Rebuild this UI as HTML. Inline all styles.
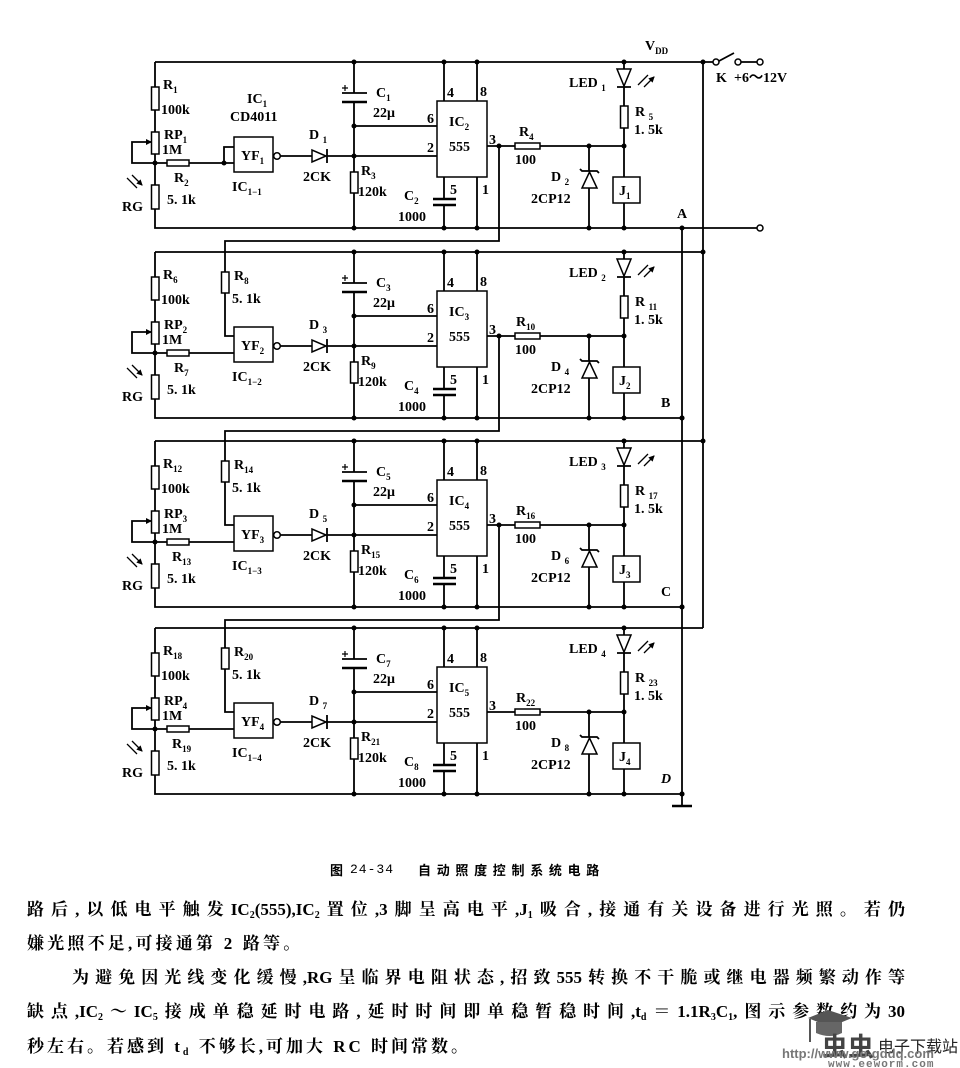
<!DOCTYPE html>
<html><head><meta charset="utf-8"><style>
html,body{margin:0;padding:0;background:#fff;}
body{width:960px;height:1068px;position:relative;overflow:hidden;}
svg text{font-family:"Liberation Serif",serif;font-size:14px;font-weight:bold;fill:#000;}
svg tspan.s{font-size:9px;}
.ln{position:absolute;font-family:"Liberation Serif","Noto Serif CJK SC",serif;font-size:17px;font-weight:bold;line-height:20px;white-space:nowrap;color:#000;}
.j{text-align:justify;text-align-last:justify;}
.ln sub{font-size:10px;vertical-align:-3px;line-height:0;}
</style></head><body>
<svg width="960" height="860" viewBox="0 0 960 860" style="position:absolute;left:0;top:0">
<defs>
<marker id="ah" markerWidth="6" markerHeight="6" refX="5" refY="3" orient="auto" markerUnits="userSpaceOnUse"><path d="M0,0 L6,3 L0,6 z" fill="#000"/></marker>
<g id="stg">
 <g stroke="#000" stroke-width="1.8" fill="none">
  <path d="M155,62 H703"/>
  <path d="M155,62 V87 M155,110 V132 M155,154 V185 M155,209 V228 H682"/>
  <path d="M155,163 H132 V142 H151" marker-end="url(#ah)"/>
  <path d="M155,163 H167 M189,163 H234"/>
  <path d="M280.5,156 H312 M327,149 V163 M327,156 H437"/>
  <path d="M354,62 V93 M342,93 H367 M354,102 V172 M354,193 V228 M354,126 H437"/>
  <path d="M342,102 H367" stroke-width="2.6"/>
  <path d="M444,62 V101 M477,62 V101 M444,177 V199 M444,205 V228 M477,177 V228"/>
  <path d="M433,199 H456 M433,205 H456" stroke-width="2.4"/>
  <path d="M487,146 H515 M540,146 H624"/>
  <path d="M589,146 V171 M580,169 L582,171 H597 L599,173 M589,188 V228"/>
  <path d="M624,62 V69 M617,87 H631 M624,87 V106 M624,128 V177 M624,203 V228"/>
  <path d="M342,88 H348 M345,85 V91" stroke-width="1.2"/>
 </g>
 <g stroke="#000" stroke-width="1.5" fill="#fff">
  <rect x="151.5" y="87" width="7.5" height="23"/>
  <rect x="151.5" y="132" width="7.5" height="22"/>
  <rect x="151.5" y="185" width="7.5" height="24"/>
  <rect x="167" y="160" width="22" height="6"/>
  <rect x="234" y="137" width="39" height="35"/>
  <circle cx="277" cy="156" r="3.3"/>
  <polygon points="312,150 312,162 326,156"/>
  <rect x="350.5" y="172" width="7.5" height="21"/>
  <rect x="437" y="101" width="50" height="76"/>
  <rect x="515" y="143" width="25" height="6"/>
  <polygon points="582,188 597,188 589.5,172"/>
  <polygon points="617,69 631,69 624,86"/>
  <rect x="620.5" y="106" width="7.5" height="22"/>
  <rect x="613" y="177" width="27" height="26"/>
 </g>
 <g stroke="#000" stroke-width="1.3">
  <path d="M638,85 L648,75 M644,87 L654,77" marker-end="url(#ah)"/>
  <path d="M127,178 L137,188 M132,175 L142,185" marker-end="url(#ah)"/>
 </g>
 <g fill="#000">
  <circle cx="354" cy="62" r="2.5"/><circle cx="444" cy="62" r="2.5"/><circle cx="477" cy="62" r="2.5"/><circle cx="624" cy="62" r="2.5"/>
  <circle cx="155" cy="163" r="2.5"/><circle cx="354" cy="126" r="2.5"/><circle cx="354" cy="156" r="2.5"/>
  <circle cx="589" cy="146" r="2.5"/><circle cx="624" cy="146" r="2.5"/>
  <circle cx="354" cy="228" r="2.5"/><circle cx="444" cy="228" r="2.5"/><circle cx="477" cy="228" r="2.5"/><circle cx="589" cy="228" r="2.5"/><circle cx="624" cy="228" r="2.5"/><circle cx="682" cy="228" r="2.5"/>
 </g>
</g>
</defs>

<use href="#stg"/>
<use href="#stg" transform="translate(0,190)"/>
<use href="#stg" transform="translate(0,379)"/>
<use href="#stg" transform="translate(0,566)"/>

<g stroke="#000" stroke-width="1.8" fill="none">
 <path d="M224,163 V147 H234"/>
 <path d="M703,62 H713 M719,61 L734,53 M741,62 H757"/>
 <path d="M682,228 H757"/>
 <path d="M703,62 V628"/>
 <path d="M682,228 V806"/>
 <path d="M672,806 H692" stroke-width="2.6"/>
 <path d="M499,146 V241 H225 V272 M225,293 V336 H234"/>
 <path d="M499,336 V431 H225 V461 M225,482 V525 H234"/>
 <path d="M499,525 V620 H225 V648 M225,669 V712 H234"/>
</g>
<g stroke="#000" stroke-width="1.5" fill="#fff">
 <circle cx="716" cy="62" r="3"/><circle cx="738" cy="62" r="3"/><circle cx="760" cy="62" r="3"/><circle cx="760" cy="228" r="3"/>
 <rect x="221.5" y="272" width="7.5" height="21"/>
 <rect x="221.5" y="461" width="7.5" height="21"/>
 <rect x="221.5" y="648" width="7.5" height="21"/>
</g>
<g fill="#000">
 <circle cx="224" cy="163" r="2.5"/>
 <circle cx="703" cy="62" r="2.5"/><circle cx="703" cy="252" r="2.5"/><circle cx="703" cy="441" r="2.5"/>
 <circle cx="682" cy="418" r="2.5"/><circle cx="682" cy="607" r="2.5"/><circle cx="682" cy="794" r="2.5"/>
 <circle cx="499" cy="146" r="2.5"/><circle cx="499" cy="336" r="2.5"/><circle cx="499" cy="525" r="2.5"/>
</g>

<text x="645" y="50">V<tspan class="s" dy="4">DD</tspan></text>
<text x="716" y="82">K</text>
<text x="734" y="82">+6～12V</text>
<text x="677" y="218">A</text>
<text x="661" y="407">B</text>
<text x="661" y="596">C</text>
<text x="661" y="783" font-style="italic">D</text>

<g>
<text x="163" y="89">R<tspan class="s" dy="4">1</tspan></text>
<text x="161" y="114">100k</text>
<text x="164" y="139">RP<tspan class="s" dy="4">1</tspan></text>
<text x="162" y="154">1M</text>
<text x="174" y="182">R<tspan class="s" dy="4">2</tspan></text>
<text x="167" y="204">5. 1k</text>
<text x="122" y="211">RG</text>
<text x="247" y="103">IC<tspan class="s" dy="4">1</tspan></text>
<text x="230" y="121">CD4011</text>
<text x="241" y="160">YF<tspan class="s" dy="4">1</tspan></text>
<text x="232" y="191">IC<tspan class="s" dy="4">1−1</tspan></text>
<text x="309" y="139">D <tspan class="s" dy="4">1</tspan></text>
<text x="303" y="181">2CK</text>
<text x="361" y="175">R<tspan class="s" dy="4">3</tspan></text>
<text x="358" y="196">120k</text>
<text x="376" y="97">C<tspan class="s" dy="4">1</tspan></text>
<text x="373" y="117">22μ</text>
<text x="404" y="200">C<tspan class="s" dy="4">2</tspan></text>
<text x="398" y="221">1000</text>
<text x="427" y="123">6</text><text x="427" y="152">2</text><text x="447" y="97">4</text><text x="480" y="96">8</text>
<text x="489" y="144">3</text><text x="450" y="194">5</text><text x="482" y="194">1</text>
<text x="449" y="126">IC<tspan class="s" dy="4">2</tspan></text>
<text x="449" y="151">555</text>
<text x="519" y="136">R<tspan class="s" dy="4">4</tspan></text>
<text x="515" y="164">100</text>
<text x="551" y="181">D <tspan class="s" dy="4">2</tspan></text>
<text x="531" y="203">2CP12</text>
<text x="619" y="195">J<tspan class="s" dy="4">1</tspan></text>
<text x="569" y="87">LED <tspan class="s" dy="4">1</tspan></text>
<text x="635" y="116">R <tspan class="s" dy="4">5</tspan></text>
<text x="634" y="134">1. 5k</text>
</g>

<g transform="translate(0,190)">
<text x="163" y="89">R<tspan class="s" dy="4">6</tspan></text>
<text x="161" y="114">100k</text>
<text x="164" y="139">RP<tspan class="s" dy="4">2</tspan></text>
<text x="162" y="154">1M</text>
<text x="174" y="182">R<tspan class="s" dy="4">7</tspan></text>
<text x="167" y="204">5. 1k</text>
<text x="122" y="211">RG</text>
<text x="234" y="90">R<tspan class="s" dy="4">8</tspan></text>
<text x="232" y="113">5. 1k</text>
<text x="241" y="160">YF<tspan class="s" dy="4">2</tspan></text>
<text x="232" y="191">IC<tspan class="s" dy="4">1−2</tspan></text>
<text x="309" y="139">D <tspan class="s" dy="4">3</tspan></text>
<text x="303" y="181">2CK</text>
<text x="361" y="175">R<tspan class="s" dy="4">9</tspan></text>
<text x="358" y="196">120k</text>
<text x="376" y="97">C<tspan class="s" dy="4">3</tspan></text>
<text x="373" y="117">22μ</text>
<text x="404" y="200">C<tspan class="s" dy="4">4</tspan></text>
<text x="398" y="221">1000</text>
<text x="427" y="123">6</text><text x="427" y="152">2</text><text x="447" y="97">4</text><text x="480" y="96">8</text>
<text x="489" y="144">3</text><text x="450" y="194">5</text><text x="482" y="194">1</text>
<text x="449" y="126">IC<tspan class="s" dy="4">3</tspan></text>
<text x="449" y="151">555</text>
<text x="516" y="136">R<tspan class="s" dy="4">10</tspan></text>
<text x="515" y="164">100</text>
<text x="551" y="181">D <tspan class="s" dy="4">4</tspan></text>
<text x="531" y="203">2CP12</text>
<text x="619" y="195">J<tspan class="s" dy="4">2</tspan></text>
<text x="569" y="87">LED <tspan class="s" dy="4">2</tspan></text>
<text x="635" y="116">R <tspan class="s" dy="4">11</tspan></text>
<text x="634" y="134">1. 5k</text>
</g>

<g transform="translate(0,379)">
<text x="163" y="89">R<tspan class="s" dy="4">12</tspan></text>
<text x="161" y="114">100k</text>
<text x="164" y="139">RP<tspan class="s" dy="4">3</tspan></text>
<text x="162" y="154">1M</text>
<text x="172" y="182">R<tspan class="s" dy="4">13</tspan></text>
<text x="167" y="204">5. 1k</text>
<text x="122" y="211">RG</text>
<text x="234" y="90">R<tspan class="s" dy="4">14</tspan></text>
<text x="232" y="113">5. 1k</text>
<text x="241" y="160">YF<tspan class="s" dy="4">3</tspan></text>
<text x="232" y="191">IC<tspan class="s" dy="4">1−3</tspan></text>
<text x="309" y="139">D <tspan class="s" dy="4">5</tspan></text>
<text x="303" y="181">2CK</text>
<text x="361" y="175">R<tspan class="s" dy="4">15</tspan></text>
<text x="358" y="196">120k</text>
<text x="376" y="97">C<tspan class="s" dy="4">5</tspan></text>
<text x="373" y="117">22μ</text>
<text x="404" y="200">C<tspan class="s" dy="4">6</tspan></text>
<text x="398" y="221">1000</text>
<text x="427" y="123">6</text><text x="427" y="152">2</text><text x="447" y="97">4</text><text x="480" y="96">8</text>
<text x="489" y="144">3</text><text x="450" y="194">5</text><text x="482" y="194">1</text>
<text x="449" y="126">IC<tspan class="s" dy="4">4</tspan></text>
<text x="449" y="151">555</text>
<text x="516" y="136">R<tspan class="s" dy="4">16</tspan></text>
<text x="515" y="164">100</text>
<text x="551" y="181">D <tspan class="s" dy="4">6</tspan></text>
<text x="531" y="203">2CP12</text>
<text x="619" y="195">J<tspan class="s" dy="4">3</tspan></text>
<text x="569" y="87">LED <tspan class="s" dy="4">3</tspan></text>
<text x="635" y="116">R <tspan class="s" dy="4">17</tspan></text>
<text x="634" y="134">1. 5k</text>
</g>

<g transform="translate(0,566)">
<text x="163" y="89">R<tspan class="s" dy="4">18</tspan></text>
<text x="161" y="114">100k</text>
<text x="164" y="139">RP<tspan class="s" dy="4">4</tspan></text>
<text x="162" y="154">1M</text>
<text x="172" y="182">R<tspan class="s" dy="4">19</tspan></text>
<text x="167" y="204">5. 1k</text>
<text x="122" y="211">RG</text>
<text x="234" y="90">R<tspan class="s" dy="4">20</tspan></text>
<text x="232" y="113">5. 1k</text>
<text x="241" y="160">YF<tspan class="s" dy="4">4</tspan></text>
<text x="232" y="191">IC<tspan class="s" dy="4">1−4</tspan></text>
<text x="309" y="139">D <tspan class="s" dy="4">7</tspan></text>
<text x="303" y="181">2CK</text>
<text x="361" y="175">R<tspan class="s" dy="4">21</tspan></text>
<text x="358" y="196">120k</text>
<text x="376" y="97">C<tspan class="s" dy="4">7</tspan></text>
<text x="373" y="117">22μ</text>
<text x="404" y="200">C<tspan class="s" dy="4">8</tspan></text>
<text x="398" y="221">1000</text>
<text x="427" y="123">6</text><text x="427" y="152">2</text><text x="447" y="97">4</text><text x="480" y="96">8</text>
<text x="489" y="144">3</text><text x="450" y="194">5</text><text x="482" y="194">1</text>
<text x="449" y="126">IC<tspan class="s" dy="4">5</tspan></text>
<text x="449" y="151">555</text>
<text x="516" y="136">R<tspan class="s" dy="4">22</tspan></text>
<text x="515" y="164">100</text>
<text x="551" y="181">D <tspan class="s" dy="4">8</tspan></text>
<text x="531" y="203">2CP12</text>
<text x="619" y="195">J<tspan class="s" dy="4">4</tspan></text>
<text x="569" y="87">LED <tspan class="s" dy="4">4</tspan></text>
<text x="635" y="116">R <tspan class="s" dy="4">23</tspan></text>
<text x="634" y="134">1. 5k</text>
</g>
</svg>

<div class="ln" style="left:330px;top:861px;font-size:13px;line-height:18px;font-family:'Noto Sans CJK SC',sans-serif;">图</div>
<div class="ln" style="left:350px;top:861px;font-size:13px;line-height:18px;font-family:'Liberation Mono',monospace;font-weight:normal;letter-spacing:1px;">24-34</div>
<div class="ln" style="left:418px;top:861px;font-size:13px;line-height:18px;font-family:'Noto Sans CJK SC',sans-serif;letter-spacing:5.7px;">自动照度控制系统电路</div>

<div class="ln j" style="left:27px;top:900px;width:878px;">路后,以低电平触发IC<sub>2</sub>(555),IC<sub>2</sub>置位,3脚呈高电平,J<sub>1</sub>吸合,接通有关设备进行光照。若仍</div>
<div class="ln" style="left:27px;top:934px;letter-spacing:3.2px;">嫌光照不足,可接通第 2 路等。</div>
<div class="ln j" style="left:72px;top:968px;width:833px;">为避免因光线变化缓慢,RG呈临界电阻状态,招致555转换不干脆或继电器频繁动作等</div>
<div class="ln j" style="left:27px;top:1002px;width:878px;">缺点,IC<sub>2</sub>～IC<sub>5</sub>接成单稳延时电路,延时时间即单稳暂稳时间,t<sub>d</sub>＝1.1R<sub>3</sub>C<sub>1</sub>,图示参数约为30</div>
<div class="ln" style="left:27px;top:1037px;letter-spacing:3px;">秒左右。若感到 t<sub>d</sub> 不够长,可加大 RC 时间常数。</div>

<svg width="180" height="62" viewBox="0 0 180 62" style="position:absolute;left:780px;top:1006px">
 <polygon points="48,4 72,12 50,21 28,12" fill="#555"/>
 <path d="M36,16 V27 Q50,33 62,27 V16" fill="#666"/>
 <path d="M30,13 V36" stroke="#555" stroke-width="2"/>
 <text x="42" y="50" style="font-family:'Noto Sans CJK SC',sans-serif;font-size:26px;font-weight:bold;fill:#444;">虫虫</text>
 <text x="98" y="46" style="font-family:'Noto Sans CJK SC',sans-serif;font-size:16px;font-weight:normal;fill:#222;">电子下载站</text>
 <text x="2" y="52" style="font-family:'Liberation Sans',sans-serif;font-size:13px;font-weight:bold;fill:#777;">http://www.go-gddq.com</text>
 <text x="48" y="61" style="font-family:'Liberation Mono',monospace;font-size:11px;font-weight:bold;fill:#777;letter-spacing:1px;">www.eeworm.com</text>
</svg>
</body></html>
